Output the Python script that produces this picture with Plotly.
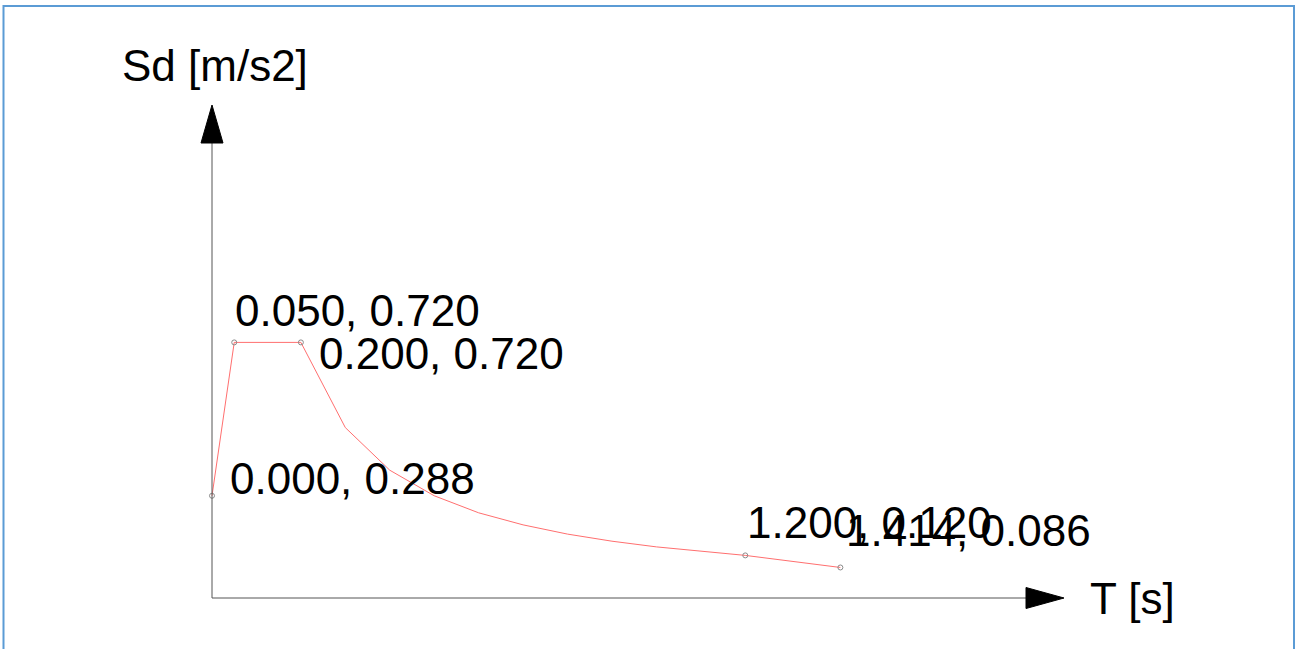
import plotly.graph_objects as go

# Design response spectrum, Sd(T)
period_s = [0.000, 0.050, 0.200, 0.300, 0.400, 0.500, 0.600, 0.700, 0.800,
            0.900, 1.000, 1.100, 1.200, 1.414]
sd_ms2 = [0.288, 0.720, 0.720, 0.480, 0.360, 0.288, 0.240, 0.206, 0.180,
          0.160, 0.144, 0.131, 0.120, 0.086]

# Characteristic points that carry a coordinate label
key_T = [0.000, 0.050, 0.200, 1.200, 1.414]
key_Sd = [0.288, 0.720, 0.720, 0.120, 0.086]
# label offsets in pixels (right, up) from each point
label_dx = [16, -1, 16, 0, 4]
label_dy = [17, 32, -11, 33, 37]

x_title = "T [s]"
y_title = "Sd [m/s2]"

W, H = 1302, 649
# pixel scale of the drawing
PX_PER_T = 444.4
PX_PER_SD = 355.0
ORIGIN_PX = (212, 598)

x_range = [-ORIGIN_PX[0] / PX_PER_T, (W - ORIGIN_PX[0]) / PX_PER_T]
y_range = [(ORIGIN_PX[1] - H) / PX_PER_SD, ORIGIN_PX[1] / PX_PER_SD]

FONT = "Liberation Sans, Arial, sans-serif"
FONT_SIZE = 44
AXIS_COLOR = "#555555"

fig = go.Figure()

fig.add_trace(go.Scatter(
    x=period_s, y=sd_ms2, mode="lines",
    line=dict(color="#ff6f6f", width=1),
    hoverinfo="skip", showlegend=False,
))
fig.add_trace(go.Scatter(
    x=key_T, y=key_Sd, mode="markers",
    marker=dict(symbol="circle-open", size=5, color="#8a8a8a",
                line=dict(width=1, color="#8a8a8a")),
    hoverinfo="skip", showlegend=False,
))

# axis lines with arrowheads (in axis units)
x_end = (1026 - ORIGIN_PX[0]) / PX_PER_T
x_tip = (1064 - ORIGIN_PX[0]) / PX_PER_T
y_end = (ORIGIN_PX[1] - 143) / PX_PER_SD
y_tip = (ORIGIN_PX[1] - 105) / PX_PER_SD
half_w_T = 11 / PX_PER_T
half_h_Sd = 10.5 / PX_PER_SD

shapes = [
    dict(type="line", x0=0, y0=0, x1=x_end, y1=0,
         line=dict(color=AXIS_COLOR, width=1)),
    dict(type="line", x0=0, y0=0, x1=0, y1=y_end,
         line=dict(color=AXIS_COLOR, width=1)),
    dict(type="path",
         path=f"M {x_end},{-half_h_Sd} L {x_tip},0 L {x_end},{half_h_Sd} Z",
         fillcolor="black", line=dict(color="black", width=1)),
    dict(type="path",
         path=f"M {-half_w_T},{y_end} L 0,{y_tip} L {half_w_T},{y_end} Z",
         fillcolor="black", line=dict(color="black", width=1)),
    # frame around the drawing
    dict(type="rect", xref="paper", yref="paper",
         x0=3.5 / W, x1=1294 / W, y0=-0.05, y1=1 - 6 / H,
         line=dict(color="#5b9bd5", width=2)),
]

annotations = []
for t, s, dx, dy in zip(key_T, key_Sd, label_dx, label_dy):
    annotations.append(dict(
        x=t, y=s, xref="x", yref="y", text=f"{t:.3f}, {s:.3f}",
        showarrow=False, xanchor="left", yanchor="middle",
        xshift=dx, yshift=dy,
        font=dict(family=FONT, size=FONT_SIZE, color="black"),
    ))

annotations.append(dict(
    x=1088 / W, y=1 - 598 / H, xref="paper", yref="paper", text=x_title,
    showarrow=False, xanchor="left", yanchor="middle",
    font=dict(family=FONT, size=FONT_SIZE, color="black"),
))
annotations.append(dict(
    x=120 / W, y=1 - 66 / H, xref="paper", yref="paper", text=y_title,
    showarrow=False, xanchor="left", yanchor="middle",
    font=dict(family=FONT, size=FONT_SIZE, color="black"),
))

fig.update_layout(
    width=W, height=H,
    margin=dict(l=0, r=0, t=0, b=0),
    paper_bgcolor="white", plot_bgcolor="white",
    xaxis=dict(range=x_range, visible=False, fixedrange=True),
    yaxis=dict(range=y_range, visible=False, fixedrange=True),
    shapes=shapes, annotations=annotations,
    showlegend=False,
)

fig.write_html("out.html")
